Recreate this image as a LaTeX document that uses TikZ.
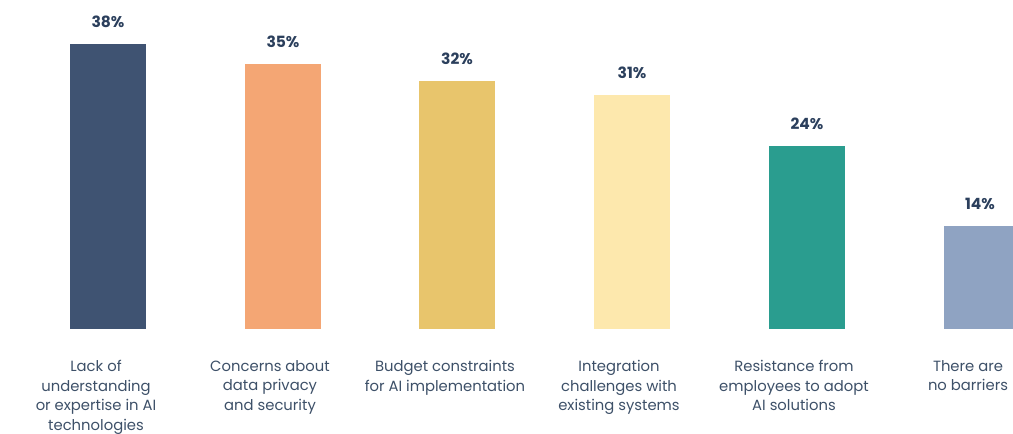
\documentclass[tikz,border=0pt]{standalone}
\usepackage{fontspec}
\setmainfont{Poppins}
\definecolor{cA}{HTML}{3F5372}
\definecolor{cB}{HTML}{F4A674}
\definecolor{cC}{HTML}{E8C56C}
\definecolor{cD}{HTML}{FDE8AD}
\definecolor{cE}{HTML}{2A9D8F}
\definecolor{cF}{HTML}{8FA3C2}
\definecolor{pct}{HTML}{2B3F5C}
\definecolor{lbl}{HTML}{3D5068}
\tikzset{
  pctlabel/.style={text=pct, font=\fontsize{15.5}{17}\selectfont\bfseries, anchor=center, inner sep=0pt},
  catlabel/.style={text=lbl, font=\fontsize{14.8}{19.7}\selectfont, align=center, anchor=north, inner sep=0pt},
}
\begin{document}
\begin{tikzpicture}[x=1pt,y=-1pt]
\useasboundingbox (0,0) rectangle (1013,434);
\fill[cA] (70,44) rectangle (146,329);
\fill[cB] (245,64) rectangle (321,329);
\fill[cC] (419,81) rectangle (495,329);
\fill[cD] (594,95) rectangle (670,329);
\fill[cE] (769,146) rectangle (845,329);
\fill[cF] (944,226) rectangle (1013,329);
\node[pctlabel] (p1) at (108,22) {38\%};
\node[pctlabel] (p2) at (283,42) {35\%};
\node[pctlabel] (p3) at (457,59) {32\%};
\node[pctlabel] (p4) at (632,73) {31\%};
\node[pctlabel] (p5) at (807,124) {24\%};
\node[pctlabel] (p6) at (980,204) {14\%};
\node[catlabel] (l1) at (96,360) {Lack of\\understanding\\or expertise in AI\\technologies};
\node[catlabel] (l2) at (270,360) {Concerns about\\data privacy\\and security};
\node[catlabel] (l3) at (445,360) {Budget constraints\\for AI implementation};
\node[catlabel] (l4) at (619,360) {Integration\\challenges with\\existing systems};
\node[catlabel] (l5) at (794,360) {Resistance from\\employees to adopt\\AI solutions};
\node[catlabel] (l6) at (968,360) {There are\\no barriers};
\end{tikzpicture}
\end{document}
